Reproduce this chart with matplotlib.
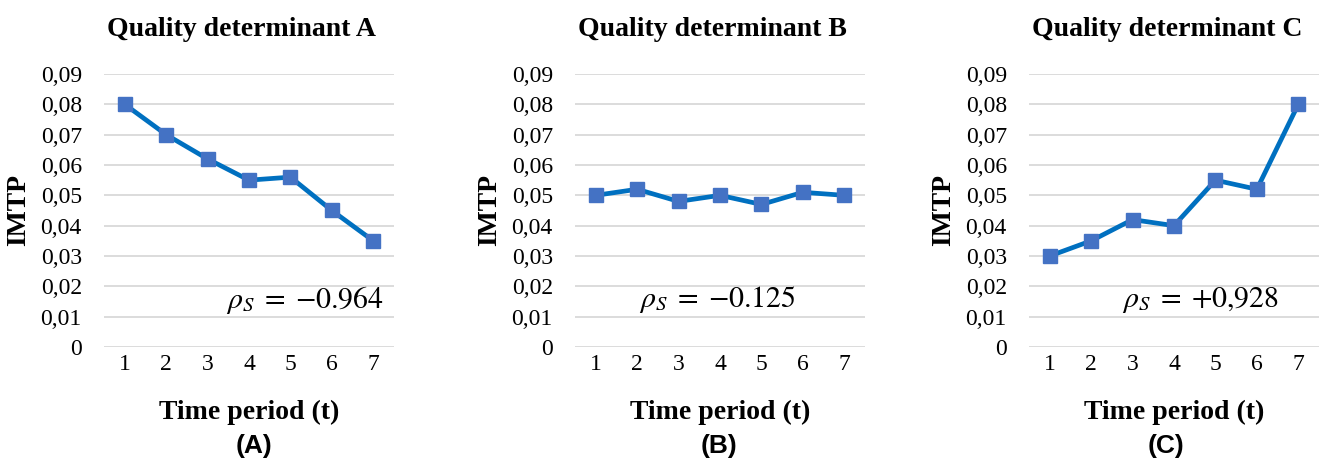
import numpy as np
import matplotlib
matplotlib.use("Agg")
import matplotlib.pyplot as plt
import matplotlib.transforms as mtransforms
from matplotlib.ticker import FuncFormatter

# dane
periods = [1, 2, 3, 4, 5, 6, 7]
imtp_a = [0.080, 0.070, 0.062, 0.055, 0.056, 0.045, 0.035]
imtp_b = [0.050, 0.052, 0.048, 0.050, 0.047, 0.051, 0.050]
imtp_c = [0.030, 0.035, 0.042, 0.040, 0.055, 0.052, 0.080]
titles = ["Quality determinant A", "Quality determinant B", "Quality determinant C"]
panel_tags = ["(A)", "(B)", "(C)"]
rho_texts = [r"$\rho_S\;=\;{-}0.964$", r"$\rho_S\;=\;{-}0.125$", r"$\rho_S\;=\;{+}0{,}928$"]
yticks = [0, 0.01, 0.02, 0.03, 0.04, 0.05, 0.06, 0.07, 0.08, 0.09]

plt.rcParams["font.family"] = "Liberation Serif"
plt.rcParams["mathtext.fontset"] = "stix"

W, H = 1323, 461
fig = plt.figure(figsize=(W / 100, H / 100), dpi=100)

lefts = [104, 575, 1029]
tag_x = [254, 719, 1166]
rho_pos = [(0.965, "right"), (0.49, "center"), (0.59, "center")]
series = [imtp_a, imtp_b, imtp_c]

def fmt(v, pos):
    if abs(v) < 1e-9:
        return "0"
    return ("%.2f" % v).replace(".", ",")

for i in range(3):
    ax = fig.add_axes([lefts[i] / W, 1 - 347 / H, 290 / W, 273 / H])
    ax.plot(periods, series[i], color="#0070C0", lw=3.4, marker="s",
            markersize=10, markerfacecolor="#4472C4", markeredgecolor="#4472C4",
            zorder=3)
    ax.set_xlim(0.5, 7.5)
    ax.set_ylim(0, 0.09)
    ax.set_yticks(yticks)
    ax.set_xticks(periods)
    ax.yaxis.set_major_formatter(FuncFormatter(fmt))
    ax.grid(axis="y", color="#d9d9d9", lw=1.3)
    ax.set_axisbelow(True)
    for s in ax.spines.values():
        s.set_visible(False)
    ax.tick_params(length=0, labelsize=17, colors="#000000")
    ax.tick_params(axis="x", pad=5)
    ax.tick_params(axis="y", pad=16)
    ax.set_title(titles[i], fontsize=20, fontweight="bold", pad=27, x=0.475)
    ax.set_xlabel("Time period (t)", fontsize=20, fontweight="bold", labelpad=18)
    ax.set_ylabel("IMTP", fontsize=20, fontweight="bold", labelpad=7)
    xr, ha = rho_pos[i]
    trans = mtransforms.blended_transform_factory(ax.transAxes, ax.transData)
    ax.text(xr, 0.0155, rho_texts[i], transform=trans,
            fontsize=21.5, ha=ha, va="center")
    fig.text(tag_x[i] / W, 1 - 446 / H, panel_tags[i], fontsize=19,
             fontweight="bold", family="Liberation Sans", ha="center", va="center")

fig.savefig("out.png", dpi=100)
